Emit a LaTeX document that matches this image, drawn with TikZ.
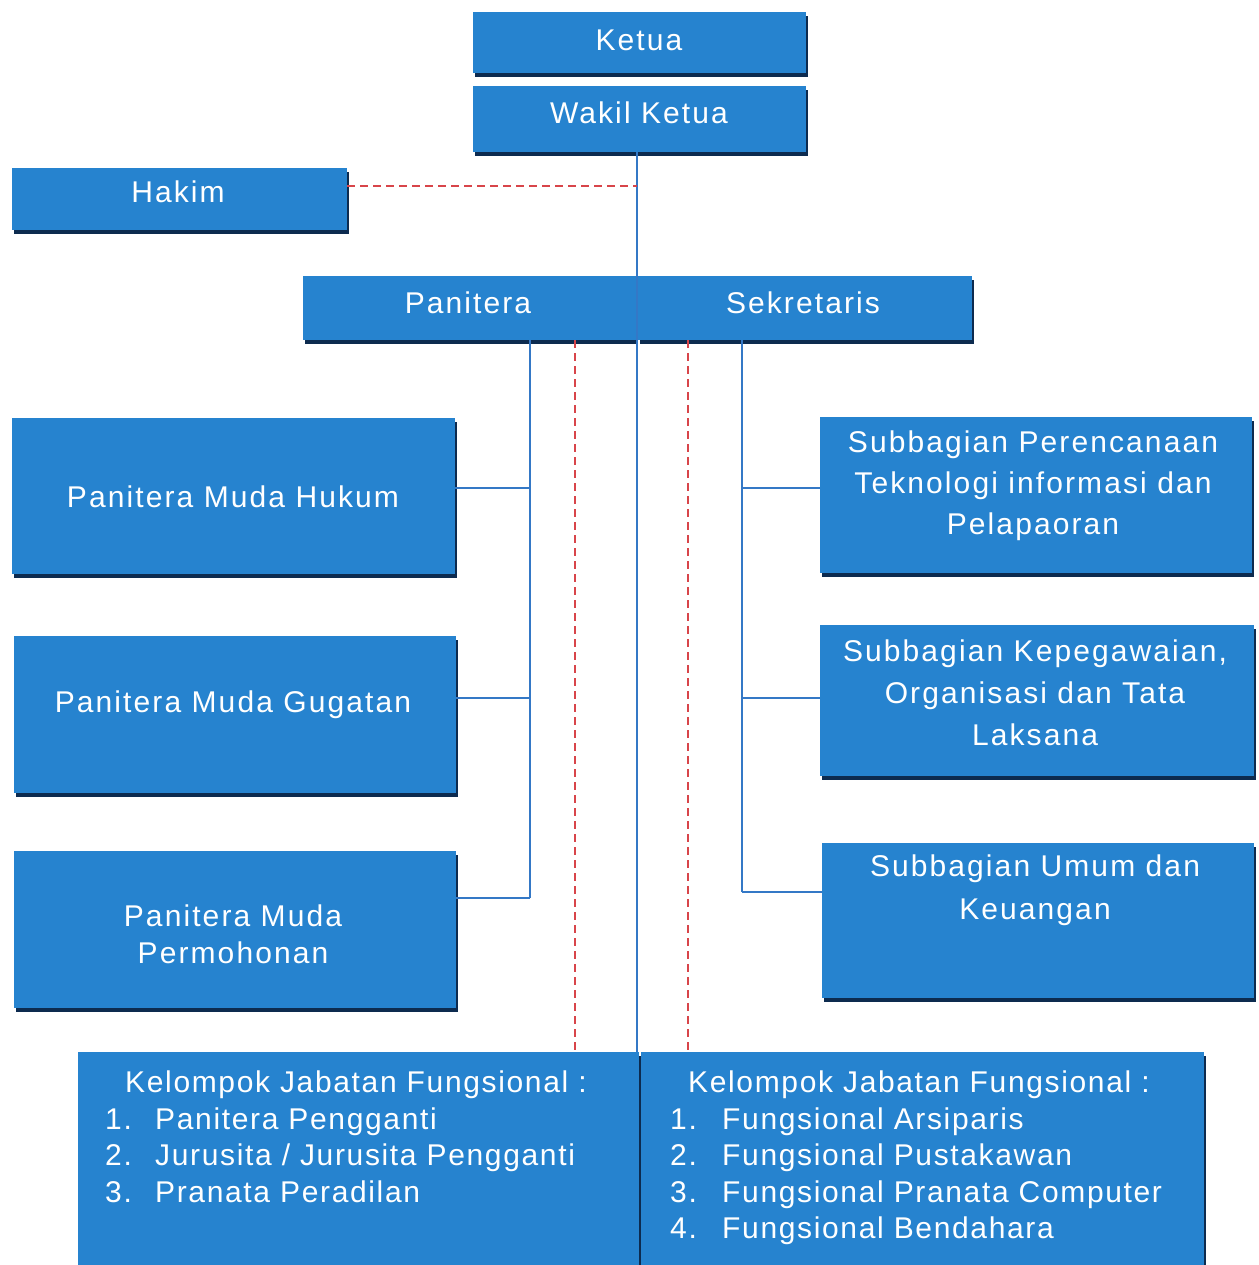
\documentclass[tikz,border=0pt]{standalone}
\usepackage{fontspec}
\newfontfamily\lab[LetterSpace=7]{Liberation Sans}
\newfontfamily\labb[LetterSpace=5.5]{Liberation Sans}
\usetikzlibrary{shadows}
\definecolor{boxblue}{HTML}{2683CF}
\definecolor{shadenavy}{HTML}{0D2B4F}
\definecolor{lineblue}{HTML}{3478C6}
\definecolor{reddash}{HTML}{D8454A}
\tikzset{
  box/.style={fill=boxblue, draw=none, inner sep=0pt, rectangle,
    drop shadow={shadow xshift=2pt, shadow yshift=-4pt, opacity=1, fill=shadenavy}},
  lbl/.style={text=white, align=center, inner sep=0pt},
  solidline/.style={draw=lineblue, line width=2.3pt},
  dashline/.style={draw=reddash, line width=2pt, dash pattern=on 8pt off 5pt},
}
\newcommand{\lfont}[1]{\lab\fontsize{30}{#1}\selectfont}
\newcommand{\lbfont}[1]{\labb\fontsize{30}{#1}\selectfont}
\begin{document}
\begin{tikzpicture}[x=1pt,y=-1pt]
\fill[white] (0,0) rectangle (1258,1265);
\useasboundingbox (0,0) rectangle (1258,1265);

% boxes
\node[box, minimum width=333pt, minimum height=61pt] (ketua) at (639.5,42.5) {};
\node[box, minimum width=333pt, minimum height=66pt] (wakil) at (639.5,119) {};
\node[box, minimum width=335pt, minimum height=62pt] (hakim) at (179.5,199) {};
\node[box, minimum width=333pt, minimum height=64pt] (panitera) at (469.5,308) {};
\node[box, minimum width=334pt, minimum height=64pt] (sekretaris) at (805,308) {};
\node[box, minimum width=443pt, minimum height=156pt] (pmh) at (233.5,496) {};
\node[box, minimum width=442pt, minimum height=157pt] (pmg) at (235,714.5) {};
\node[box, minimum width=442pt, minimum height=157pt] (pmp) at (235,929.5) {};
\node[box, minimum width=432pt, minimum height=156pt] (sp) at (1036,495) {};
\node[box, minimum width=434pt, minimum height=151pt] (sk) at (1037,700.5) {};
\node[box, minimum width=432pt, minimum height=155pt] (su) at (1038,920.5) {};
\node[box, minimum width=561pt, minimum height=213pt] (kl) at (358.5,1158.5) {};
\node[box, minimum width=563pt, minimum height=213pt] (kr) at (922.5,1158.5) {};

% labels
\node[lbl, font=\lfont{35}] (tketua) at (639,40) {Ketua};
\node[lbl, font=\lfont{35}] (twakil) at (639,113) {Wakil Ketua};
\node[lbl, font=\lfont{35}] (thakim) at (178,192) {Hakim};
\node[lbl, font=\lfont{35}] (tpanitera) at (468,303) {Panitera};
\node[lbl, font=\lfont{35}] (tsekretaris) at (803,303) {Sekretaris};
\node[lbl, font=\lfont{35}] (tpmh) at (233,497) {Panitera Muda Hukum};
\node[lbl, font=\lfont{35}] (tpmg) at (233,705) {Panitera Muda Gugatan};
\node[lbl, font=\lfont{37}] (tpmp) at (233,934) {Panitera Muda\\Permohonan};
\node[lbl, font=\lfont{41}] (tsp) at (1033,486) {Subbagian Perencanaan\\Teknologi informasi dan\\Pelapaoran};
\node[lbl, font=\lfont{42}] (tsk) at (1035,693) {Subbagian Kepegawaian,\\Organisasi dan Tata\\Laksana};
\node[lbl, font=\lfont{43}] (tsu) at (1035,890) {Subbagian Umum dan\\Keuangan};

\node[lbl, align=left, anchor=north west, font=\lbfont{36.5}] (tkl) at (105,1071)
  {\hspace*{20pt}Kelompok Jabatan Fungsional :\\
   \makebox[50pt][l]{1.}Panitera Pengganti\\
   \makebox[50pt][l]{2.}Jurusita / Jurusita Pengganti\\
   \makebox[50pt][l]{3.}Pranata Peradilan};
\node[lbl, align=left, anchor=north west, font=\lbfont{36.5}] (tkr) at (670,1071)
  {\hspace*{18pt}Kelompok Jabatan Fungsional :\\
   \makebox[52pt][l]{1.}Fungsional Arsiparis\\
   \makebox[52pt][l]{2.}Fungsional Pustakawan\\
   \makebox[52pt][l]{3.}Fungsional Pranata Computer\\
   \makebox[52pt][l]{4.}Fungsional Bendahara};

% coordinates
\coordinate (trunkend) at (637,1052);
\coordinate (hj) at (637,186);
\coordinate (lb1) at (530,488);
\coordinate (lb2) at (530,698);
\coordinate (lb3) at (530,898);
\coordinate (rb1) at (742,488);
\coordinate (rb2) at (742,698);
\coordinate (rb3) at (742,892);
\coordinate (dl) at (575,1052);
\coordinate (dr) at (688,1052);

% connectors
\draw[solidline] ([xshift=-2.5pt]wakil.south) -- (trunkend);
\draw[dashline] ([yshift=13pt]hakim.east) -- (hj);
\draw[solidline] (panitera.south -| lb1) -- (lb3);
\draw[solidline] (lb1) -- (lb1 -| pmh.east);
\draw[solidline] (lb2) -- (lb2 -| pmg.east);
\draw[solidline] (lb3) -- (lb3 -| pmp.east);
\draw[solidline] (sekretaris.south -| rb1) -- (rb3);
\draw[solidline] (rb1) -- (rb1 -| sp.west);
\draw[solidline] (rb2) -- (rb2 -| sk.west);
\draw[solidline] (rb3) -- (rb3 -| su.west);
\draw[dashline] (panitera.south -| dl) -- (dl);
\draw[dashline] (sekretaris.south -| dr) -- (dr);
\end{tikzpicture}
\end{document}
